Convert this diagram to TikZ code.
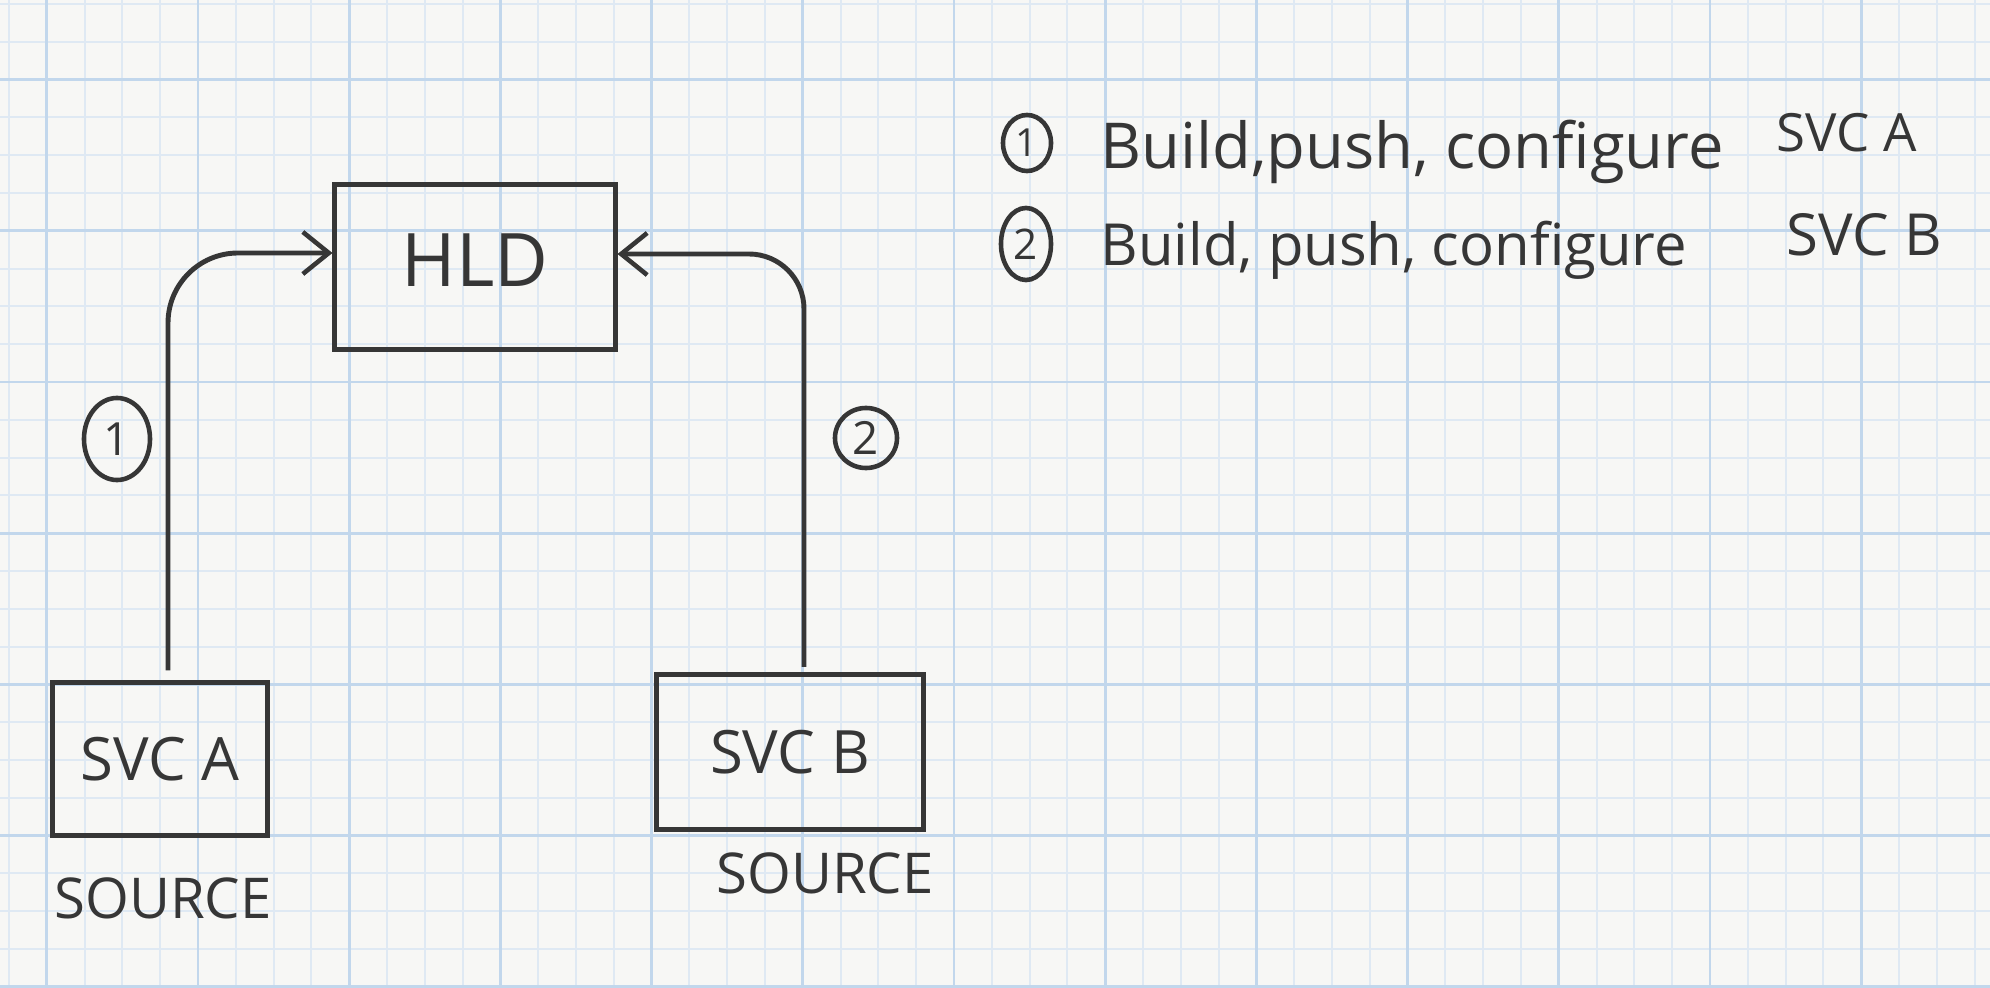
\documentclass[tikz,border=0pt]{standalone}
\usepackage{fontspec}
\setmainfont{Open Sans}
\usetikzlibrary{arrows.meta,shapes.geometric}
\definecolor{paper}{HTML}{F7F7F5}
\definecolor{gridminor}{HTML}{DFE9F3}
\definecolor{gridmajor}{HTML}{C2D7EC}
\definecolor{ink}{HTML}{363636}
\begin{document}
\begin{tikzpicture}[x=0.01cm,y=-0.01cm,
  box/.style={draw=ink, line width=1.4pt, rectangle, inner sep=0pt, text=ink},
  conn/.style={draw=ink, line width=1.4pt,
    -{Straight Barb[length=0.26cm,width=0.42cm,line width=1.3pt]}},
  numc/.style={draw=ink, line width=1.3pt, ellipse, inner sep=0pt, text=ink,
    font=\fontsize{13}{15}\selectfont},
  lbl/.style={text=ink, inner sep=0pt}]
\fill[paper] (0,0) rectangle (1990,988);
\useasboundingbox (0,0) rectangle (1990,988);
% grid
\foreach \k in {0,...,52} \draw[gridminor, line width=0.6pt] ({9+37.8*\k},0) -- ({9+37.8*\k},988);
\foreach \k in {0,...,26} \draw[gridminor, line width=0.6pt] (0,{4+37.8*\k}) -- (1990,{4+37.8*\k});
\foreach \k in {0,...,12} \draw[gridmajor, line width=0.8pt] ({46.8+151.2*\k},0) -- ({46.8+151.2*\k},988);
\foreach \k in {0,...,6} \draw[gridmajor, line width=0.8pt] (0,{79.6+151.2*\k}) -- (1990,{79.6+151.2*\k});

% boxes
\node[box, minimum width=2.8cm, minimum height=1.65cm, font=\fontsize{21}{24}\selectfont] (hld) at (475,267) {\raisebox{0.13cm}{HLD}};
\node[box, minimum width=2.14cm, minimum height=1.52cm, font=\fontsize{17}{20}\selectfont] (svca) at (160,759) {SVC A};
\node[box, minimum width=2.66cm, minimum height=1.55cm, font=\fontsize{17}{20}\selectfont] (svcb) at (790,752) {SVC B};

\node[lbl, font=\fontsize{16}{19}\selectfont] (srca) at (163,898) {SOURCE};
\node[lbl, font=\fontsize{16}{19}\selectfont] (srcb) at (825,873) {SOURCE};

% connectors
\draw[conn, rounded corners=0.7cm, shorten <=0.1cm] ([xshift=0.08cm]svca.north) |- ([yshift=0.14cm]hld.west);
\draw[conn, rounded corners=0.55cm, shorten <=0.05cm] ([xshift=0.14cm]svcb.north) |- ([yshift=0.13cm]hld.east);

% step numbers on connectors
\node[numc, minimum width=0.66cm, minimum height=0.82cm] (n1) at (117,439) {1};
\node[numc, minimum width=0.62cm, minimum height=0.60cm] (n2) at (866,438) {2};

% legend
\node[numc, minimum width=0.48cm, minimum height=0.56cm, font=\fontsize{11}{12}\selectfont] (l1) at (1027,143) {1};
\node[lbl, anchor=base west, font=\fontsize{18}{21}\selectfont] (t1) at (1100,169) {Build,push, configure};
\node[lbl, anchor=base west, font=\fontsize{15}{18}\selectfont] (s1) at (1776,152) {SVC A};
\node[numc, minimum width=0.50cm, minimum height=0.72cm, font=\fontsize{12}{13}\selectfont] (l2) at (1026,244) {2};
\node[lbl, anchor=base west, font=\fontsize{16.5}{19}\selectfont] (t2) at (1100,266) {Build, push, configure};
\node[lbl, anchor=base west, font=\fontsize{16.5}{19}\selectfont] (s2) at (1786,256) {SVC B};
\end{tikzpicture}
\end{document}
